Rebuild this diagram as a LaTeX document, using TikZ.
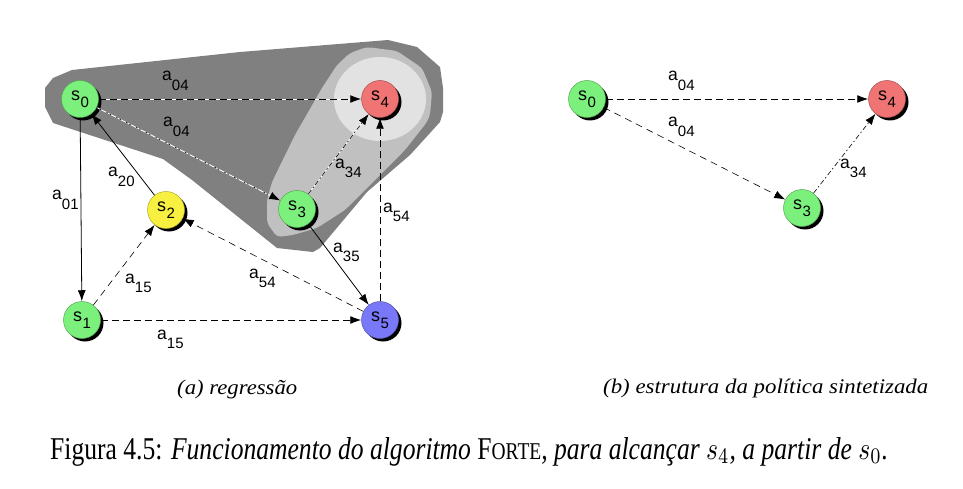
\documentclass[tikz,border=0pt]{standalone}
\usepackage{fontspec}
\setmainfont{Liberation Serif}
\setsansfont{Liberation Sans}
\usetikzlibrary{arrows.meta,shadows}
\definecolor{sgreen}{RGB}{124,240,124}
\definecolor{sred}{RGB}{240,116,116}
\definecolor{syellow}{RGB}{248,240,64}
\definecolor{sblue}{RGB}{120,120,248}
\definecolor{gdark}{RGB}{128,128,128}
\definecolor{gmid}{RGB}{192,192,192}
\definecolor{glight}{RGB}{226,226,226}
\newcommand\nlab[1]{{\sffamily\fontsize{18}{18}\selectfont s\kern0.5pt\raisebox{-7pt}{\fontsize{15}{15}\selectfont #1}}}
\newcommand\elab[1]{{\sffamily\fontsize{17.5}{17.5}\selectfont a\raisebox{-9.5pt}{\fontsize{15}{15}\selectfont #1}}}
\begin{document}
\begin{tikzpicture}[x=1pt,y=-1pt,
  every node/.style={inner sep=0pt},
  state/.style={circle, minimum size=37pt, draw=#1!70!black, line width=0.5pt, fill=#1,
    drop shadow={shadow xshift=3pt,shadow yshift=-3pt,fill=black,opacity=1}},
  elabel/.style={anchor=base west},
  arr/.style={-{Latex[length=11pt,width=8pt]}, line width=0.8pt},
  dsh/.style={arr, dash pattern=on 7pt off 4pt, line width=0.9pt},
  dshthin/.style={arr, dash pattern=on 7pt off 5pt, line width=0.6pt},
  dshdot/.style={arr, dash pattern=on 5pt off 2.5pt on 1.5pt off 2.5pt, line width=0.6pt},
  wbase/.style={preaction={draw=white, solid, line width=0.9pt}}
]
\useasboundingbox (0,0) rectangle (963,489);

% regions
\fill[gdark] (45,88) -- (53,78) -- (72,70) -- (240,52) -- (388,40) -- (417,47) -- (440,67)
  -- (443,88) -- (443,112) -- (440,122) -- (410,155) -- (367,192) -- (320,248) -- (313,252)
  -- (277,248) -- (192,180) -- (163,159) -- (53,123) -- (45,107) -- cycle;
\fill[gmid, rounded corners=4pt] (367,47) -- (397,51) -- (422,68) -- (432,92) -- (430,115)
  -- (427,122) -- (405,150) -- (345,210) -- (317,228) -- (293,235) -- (277,237) -- (267,223)
  -- (267,200) -- (272,182) -- (295,135) -- (322,88) -- (337,65) -- (350,53) -- cycle;
\fill[glight] (380,99) ellipse [x radius=46, y radius=42];

% left states
\node[state=sgreen] (l0) at (80,99) {\nlab{0}};
\node[state=sred] (l4) at (380,99) {\nlab{4}};
\node[state=sgreen] (l3) at (297,209) {\nlab{3}};
\node[state=syellow] (l2) at (166,210) {\nlab{2}};
\node[state=sgreen] (l1) at (82,320) {\nlab{1}};
\node[state=sblue] (l5) at (380,320) {\nlab{5}};

% left edges
\draw[dsh, wbase] (l0) -- (l4);
\draw[arr, wbase, dash pattern=on 1.5pt off 2pt on 1.5pt off 6pt, line width=0.6pt] (l0) -- (l3);
\draw[dshdot, wbase] (l3) -- (l4);
\draw[arr] (l0) -- (l1);
\draw[arr] (l2) -- (l0);
\draw[dshthin] (l1) -- (l2);
\draw[dshthin] (l5) -- (l2);
\draw[arr] (l3) -- (l5);
\draw[dsh] (l5) -- (l4);
\draw[dsh] (l1) -- (l5);

% left labels
\node[elabel] (t04a) at (162,81) {\elab{04}};
\node[elabel] (t04b) at (163,127) {\elab{04}};
\node[elabel] (t20) at (108,177) {\elab{20}};
\node[elabel] (t01) at (52,200) {\elab{01}};
\node[elabel] (t34) at (335,168) {\elab{34}};
\node[elabel] (t54a) at (383,212) {\elab{54}};
\node[elabel] (t35) at (333,252) {\elab{35}};
\node[elabel] (t15a) at (125,283) {\elab{15}};
\node[elabel] (t54b) at (249,278) {\elab{54}};
\node[elabel] (t15b) at (157,339) {\elab{15}};

% right states
\node[state=sgreen] (r0) at (587,99) {\nlab{0}};
\node[state=sred] (r4) at (887,99) {\nlab{4}};
\node[state=sgreen] (r3) at (802,208) {\nlab{3}};

\draw[dsh] (r0) -- (r4);
\draw[dshthin] (r0) -- (r3);
\draw[dshdot] (r3) -- (r4);

\node[elabel] (u04a) at (668,81) {\elab{04}};
\node[elabel] (u04b) at (668,127) {\elab{04}};
\node[elabel] (u34) at (840,168) {\elab{34}};

% captions
\node[anchor=base west] (capa) at (177,394) {\resizebox{120pt}{14.5pt}{\itshape (a) regressão}};
\node[anchor=base west] (capb) at (603,393) {\resizebox{325pt}{14.5pt}{\itshape (b) estrutura da política sintetizada}};
\node[anchor=base west] (cap) at (50,459) {\resizebox{838pt}{22pt}{Figura 4.5: \itshape Funcionamento do algoritmo \upshape F{\fontsize{7.6}{8}\selectfont ORTE}\itshape, para alcançar $s_4$, a partir de $s_0$.}};
\end{tikzpicture}
\end{document}
